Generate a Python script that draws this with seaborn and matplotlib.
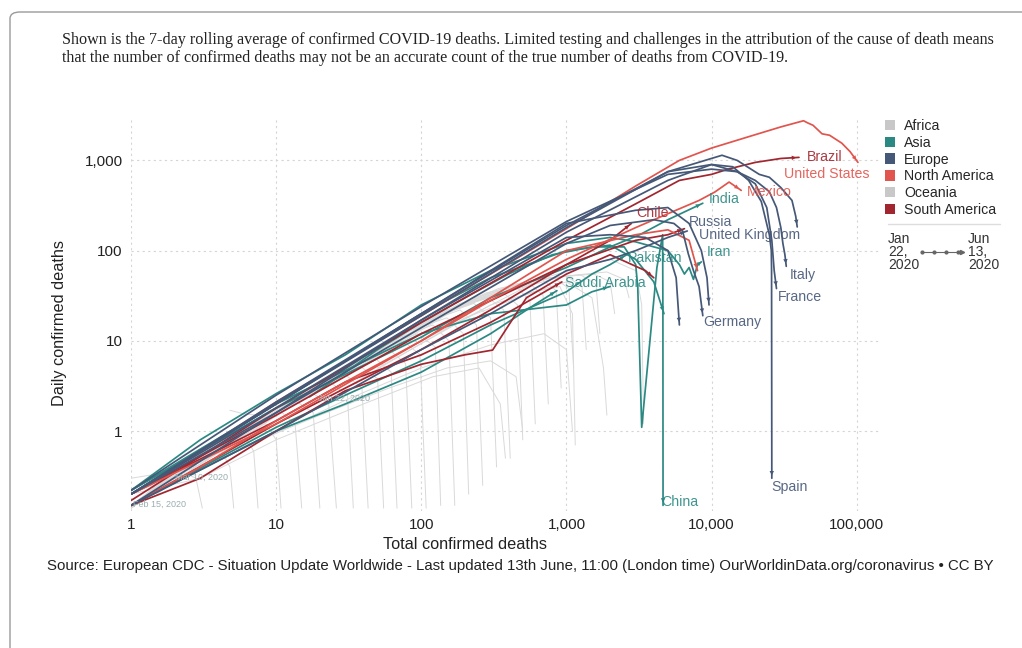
import pandas as pd
import numpy as np
import matplotlib
matplotlib.use('Agg')
import matplotlib.pyplot as plt
from matplotlib.patches import FancyBboxPatch, Patch
from matplotlib.ticker import FixedLocator, FuncFormatter, NullLocator
import seaborn as sns

# Regions / colours
regions = ['Africa', 'Asia', 'Europe', 'North America', 'Oceania', 'South America']
region_colors = ['#c8c8c8', '#2b8983', '#465877', '#e0554d', '#c8c8c8', '#a1262f']
palette = dict(zip(regions, region_colors))

# Highlighted countries: (total confirmed deaths, 7-day avg daily deaths)
united_states = [(1, 0.2), (3, 0.6), (10, 2.1), (30, 6), (100, 19), (300, 55), (1000, 175), (3000, 520),
                 (6000, 1000), (10000, 1370), (17400, 1800), (30000, 2350), (43000, 2750), (46000, 2600),
                 (50000, 2450), (57700, 1970), (65000, 1900), (79000, 1550), (90000, 1250), (102000, 950)]
brazil = [(1, 0.17), (10, 1.8), (100, 16), (1000, 130), (3000, 330), (6000, 600), (10000, 700),
          (13000, 800), (20000, 950), (30000, 1050), (40000, 1080)]
mexico = [(1, 0.15), (3, 0.4), (10, 1.3), (30, 3.5), (100, 10), (300, 28), (1000, 80), (3000, 180),
          (5100, 260), (8200, 360), (10500, 445), (13200, 575), (16000, 465)]
canada = [(1, 0.2), (10, 1.2), (100, 10), (1000, 100), (3000, 150), (5000, 170), (7000, 130), (8000, 60)]
chile = [(1, 0.15), (10, 1.2), (30, 3), (100, 8), (300, 22), (1000, 70), (2000, 130), (2800, 200)]
peru = [(1, 0.2), (10, 1.5), (100, 12), (1000, 70), (3000, 130), (5000, 150), (6500, 175)]
ecuador = [(1, 0.15), (3, 0.3), (10, 1), (30, 2.8), (100, 5.5), (200, 7), (310, 7.9), (530, 30),
           (1000, 55), (2000, 90), (3500, 60), (4000, 50)]
colombia = [(1, 0.2), (10, 1.3), (30, 3.5), (100, 7), (300, 16), (600, 30), (930, 45)]
india = [(1, 0.22), (10, 1.8), (100, 11), (300, 30), (1000, 65), (2000, 110), (3200, 150), (5000, 220), (8700, 335)]
iran = [(1, 0.22), (3, 0.8), (10, 2.6), (30, 7), (100, 25), (300, 60), (1000, 120), (2000, 140), (3000, 125),
        (4000, 110), (5000, 100), (6000, 70), (6500, 55), (7000, 65), (7500, 48), (8000, 70), (8500, 75)]
pakistan = [(1, 0.15), (10, 1.1), (30, 2.5), (100, 6), (300, 15), (1000, 35), (1500, 55), (2000, 70), (2600, 90)]
saudi_arabia = [(1, 0.15), (10, 1), (30, 2), (100, 4.5), (300, 12), (600, 25), (860, 36)]
china = [(17, 2.4), (30, 4.5), (50, 8), (100, 16), (200, 30), (400, 55), (800, 90), (1500, 110), (2500, 110),
         (3000, 70), (3100, 39), (3300, 1.1), (4200, 65), (4600, 150), (4620, 20), (4630, 0.15)]
turkey = [(1, 0.2), (10, 2), (100, 20), (300, 50), (1000, 100), (2000, 115), (3000, 80), (4000, 45), (4700, 20)]
indonesia = [(1, 0.22), (10, 2), (100, 12), (300, 20), (1000, 25), (1500, 35), (2000, 40)]
united_kingdom = [(1, 0.2), (10, 2), (100, 19), (1000, 180), (5000, 750), (11800, 1140), (15000, 1000),
                  (21300, 700), (25000, 650), (30000, 500), (35800, 360), (38000, 240), (38900, 183)]
spain = [(1, 0.2), (10, 2.1), (100, 20), (1000, 190), (5000, 750), (10000, 900), (14000, 850), (18000, 600),
         (22000, 350), (25000, 150), (25800, 100), (25900, 60), (26000, 0.3)]
france = [(1, 0.15), (10, 1.6), (100, 17), (1000, 160), (5000, 600), (10000, 900), (15000, 750), (20000, 550),
          (24000, 300), (26000, 130), (27000, 60), (28000, 38)]
italy = [(1, 0.22), (10, 2.5), (100, 24), (1000, 210), (5000, 700), (10000, 800), (15000, 750), (20000, 600),
         (25000, 450), (28000, 300), (30000, 180), (31000, 120), (32000, 90), (32700, 67)]
germany = [(1, 0.2), (10, 1.6), (100, 14), (1000, 120), (2000, 190), (4000, 220), (5500, 200), (6300, 167),
           (6900, 93), (7500, 60), (8200, 40), (8700, 19)]
russia = [(1, 0.15), (10, 1), (100, 8), (300, 20), (1000, 60), (2000, 80), (3000, 100), (5000, 140), (6800, 165)]
belgium = [(1, 0.2), (10, 2), (100, 20), (1000, 200), (3000, 280), (5000, 300), (7000, 200), (8500, 100), (9300, 50), (9600, 25)]
netherlands = [(1, 0.2), (10, 1.8), (100, 17), (1000, 140), (2000, 150), (3500, 140), (5000, 100), (5700, 50), (6000, 15)]

# Background (grey) countries
africa_lines = [
    [(1, 0.14), (1.6, 0.28), (2.3, 0.35), (2.8, 0.3), (3.1, 0.14)],
    [(1, 0.15), (2.5, 0.45), (4.5, 0.85), (6, 0.9), (7, 0.6), (7.5, 0.14)],
    [(1, 0.15), (3.5, 0.65), (7, 1.3), (11, 1.6), (13.5, 1.2), (15, 0.14)],
    [(1, 0.15), (5, 0.9), (11, 2), (18, 2.6), (23, 2), (26, 0.14)],
    [(1, 0.15), (7, 1.2), (17, 3.1), (30, 4.2), (39, 3), (43, 0.14)],
    [(1, 0.15), (9, 1.6), (26, 4.6), (48, 6.4), (62, 4.5), (68, 0.14)],
    [(1.5, 0.2), (12, 2), (40, 6.8), (75, 10), (98, 7), (108, 0.14)],
    [(2, 0.28), (18, 3), (62, 10), (120, 15), (155, 10), (170, 0.15)],
    [(3, 0.42), (26, 4.4), (95, 15), (185, 22), (240, 15), (265, 0.25)],
    [(4, 0.55), (38, 6.4), (150, 22), (290, 30), (370, 22), (410, 0.5)],
    [(6, 0.9), (55, 9.2), (230, 30), (450, 40), (560, 28), (610, 1.2)],
    [(8, 1.2), (78, 13), (340, 38), (680, 48), (850, 36), (920, 3)],
    [(12, 1.8), (110, 17), (510, 45), (1000, 52), (1280, 40), (1370, 8)],
    [(20, 2.8), (160, 22), (760, 50), (1550, 55), (2000, 45), (2150, 20)],
    [(1, 0.2), (5, 0.6), (20, 1.5), (60, 3), (150, 5), (300, 6), (450, 4), (500, 1)],
    [(2, 0.3), (8, 0.8), (30, 2.2), (100, 5), (300, 9), (700, 12), (1000, 8), (1100, 1)],
    [(50, 5), (300, 25), (1000, 45), (1500, 30), (1800, 5), (1900, 1.5)],
    [(100, 10), (700, 50), (2000, 80), (3000, 60), (3300, 25), (3400, 1.2)],
]
oceania_lines = [
    [(1, 0.14), (2, 0.35), (3.2, 0.6), (4.2, 0.6), (4.8, 0.4), (5.1, 0.14)],
    [(1, 0.14), (3, 0.55), (6, 1.1), (8.5, 1.2), (10, 0.8), (10.8, 0.14)],
    [(1, 0.14), (4, 0.7), (9, 1.7), (14, 2.1), (18, 1.6), (20, 0.14)],
    [(1, 0.14), (6, 1.1), (14, 2.6), (24, 3.4), (31, 2.5), (34, 0.14)],
    [(1, 0.14), (8, 1.4), (21, 3.8), (38, 5.2), (50, 3.8), (55, 0.14)],
    [(1, 0.14), (10, 1.7), (32, 5.6), (60, 8), (78, 5.6), (86, 0.14)],
    [(2, 0.3), (15, 2.5), (50, 8.5), (95, 12), (125, 8.5), (136, 0.15)],
    [(3, 0.45), (22, 3.7), (78, 12.5), (150, 18), (195, 12), (212, 0.2)],
    [(4, 0.6), (32, 5.4), (120, 18), (230, 26), (300, 18), (330, 0.4)],
    [(5, 0.75), (46, 7.8), (185, 26), (360, 35), (460, 25), (500, 0.8)],
    [(7, 1), (65, 11), (280, 34), (550, 44), (690, 32), (750, 2)],
    [(10, 1.5), (92, 15), (420, 42), (820, 50), (1040, 38), (1120, 5)],
    [(15, 2.2), (130, 19), (620, 48), (1250, 54), (1600, 42), (1700, 12)],
    [(25, 3.4), (200, 26), (950, 52), (1900, 58), (2500, 48), (2700, 30)],
    [(1, 0.2), (3, 0.3), (10, 0.8), (40, 2), (120, 4), (250, 5), (350, 2), (380, 0.5)],
    [(4.8, 1.7), (6, 1.55), (7.5, 1.5), (9, 1.6)],
    [(30, 3), (200, 18), (600, 35), (900, 40), (1100, 20), (1150, 0.7)],
    [(1, 0.3), (1.8, 0.35), (2.5, 0.4), (3, 0.42)],
]

countries = [
    ('Saudi Arabia', 'Asia', saudi_arabia), ('Indonesia', 'Asia', indonesia), ('Pakistan', 'Asia', pakistan),
    ('Turkey', 'Asia', turkey), ('China', 'Asia', china), ('Iran', 'Asia', iran), ('India', 'Asia', india),
    ('Colombia', 'South America', colombia), ('Ecuador', 'South America', ecuador),
    ('Peru', 'South America', peru), ('Chile', 'South America', chile), ('Brazil', 'South America', brazil),
    ('Canada', 'North America', canada), ('Mexico', 'North America', mexico),
    ('Russia', 'Europe', russia), ('Netherlands', 'Europe', netherlands), ('Belgium', 'Europe', belgium),
    ('Germany', 'Europe', germany), ('France', 'Europe', france), ('Spain', 'Europe', spain),
    ('Italy', 'Europe', italy), ('United Kingdom', 'Europe', united_kingdom),
    ('United States', 'North America', united_states),
]

# Label anchor points (left edge of text) in data coordinates
label_pos = {
    'Brazil': (45600, 1080), 'United States': (31700, 700), 'Mexico': (17400, 444), 'India': (9500, 371),
    'Chile': (3030, 260), 'Russia': (7030, 206), 'United Kingdom': (8240, 148), 'Iran': (9200, 96),
    'Pakistan': (2670, 82), 'Saudi Arabia': (970, 44), 'Italy': (34300, 53), 'France': (28800, 31),
    'Germany': (8790, 16), 'Spain': (25800, 0.24), 'China': (4510, 0.164),
}

# Build long tables
rows = []
for i, line in enumerate(africa_lines):
    for t, d in line:
        rows.append(('af%02d' % i, 'Africa', t, d))
for i, line in enumerate(oceania_lines):
    for t, d in line:
        rows.append(('oc%02d' % i, 'Oceania', t, d))
bg = pd.DataFrame(rows, columns=['country', 'region', 'total', 'daily'])

rows = []
for name, reg, line in countries:
    for t, d in line:
        rows.append((name, reg, t, d))
hl = pd.DataFrame(rows, columns=['country', 'region', 'total', 'daily'])

# Figure
sns.set_style('white')
plt.rcParams['font.family'] = ['Liberation Sans', 'DejaVu Sans']

fig = plt.figure(figsize=(10.22, 6.48), dpi=100)
ax = fig.add_axes([0.1282, 0.2114, 0.733, 0.6065])
ax.set_xscale('log')
ax.set_yscale('log')

sns.lineplot(data=bg, x='total', y='daily', units='country', estimator=None, sort=False,
             color='#d9d9d9', lw=0.7, ax=ax, legend=False)
sns.lineplot(data=hl, x='total', y='daily', hue='region', palette=palette, units='country',
             estimator=None, sort=False, lw=1.25, ax=ax, legend=False)

# arrow heads at the end of highlighted lines
for name, reg, line in countries:
    ax.annotate('', xy=line[-1], xytext=line[-2],
                arrowprops=dict(arrowstyle='-|>', color=palette[reg], lw=0, mutation_scale=8))
    if name in label_pos:
        ax.text(label_pos[name][0], label_pos[name][1], name, color=palette[reg], fontsize=10.2,
                ha='left', va='center', alpha=0.9)

# start date labels
ax.text(19.4, 2.32, 'Jan 22, 2020', fontsize=6.5, color='#9aaeb0', va='center')
ax.text(2.0, 0.31, 'Mar 10, 2020', fontsize=6.5, color='#9aaeb0', va='center')
ax.text(1.03, 0.155, 'Feb 15, 2020', fontsize=6.5, color='#9aaeb0', va='center')

ax.set_xlim(1, 145000)
ax.set_ylim(0.13, 2950)
ax.xaxis.set_major_locator(FixedLocator([1, 10, 100, 1000, 10000, 100000]))
ax.yaxis.set_major_locator(FixedLocator([1, 10, 100, 1000]))
ax.xaxis.set_minor_locator(NullLocator())
ax.yaxis.set_minor_locator(NullLocator())
fmt = FuncFormatter(lambda v, p: '{:,.0f}'.format(v))
ax.xaxis.set_major_formatter(fmt)
ax.yaxis.set_major_formatter(fmt)
ax.tick_params(axis='both', length=0, labelsize=11, colors='#222222')
ax.tick_params(axis='x', pad=5)
ax.tick_params(axis='y', pad=6)
ax.grid(True, which='major', linestyle=(0, (2, 3)), color='#d5d5d5', lw=0.8)
for s in ax.spines.values():
    s.set_visible(False)
ax.set_xlabel('Total confirmed deaths', fontsize=11.7, color='#222222', labelpad=2)
ax.xaxis.set_label_coords(0.446, -0.065)
ax.set_ylabel('Daily confirmed deaths', fontsize=11.7, color='#222222')
ax.yaxis.set_label_coords(-0.086, 0.478)

# header text
fig.text(62 / 1022, 1 - 32 / 648,
         'Shown is the 7-day rolling average of confirmed COVID-19 deaths. Limited testing and challenges in the attribution of the cause of death means\n'
         'that the number of confirmed deaths may not be an accurate count of the true number of deaths from COVID-19.',
         family=['Liberation Serif', 'DejaVu Serif'], fontsize=11.6, color='#222222', va='top', linespacing=1.15)

# source text
fig.text(47 / 1022, 1 - 566 / 648,
         'Source: European CDC - Situation Update Worldwide - Last updated 13th June, 11:00 (London time) OurWorldinData.org/coronavirus \u2022 CC BY',
         fontsize=10.8, color='#222222', va='center')

# legend
handles = [Patch(facecolor=c, edgecolor='none', label=r) for r, c in zip(regions, region_colors)]
fig.legend(handles=handles, loc='upper left', bbox_to_anchor=(882 / 1022, 1 - 116 / 648), frameon=False,
           fontsize=10.2, handlelength=0.75, handleheight=0.75, handletextpad=0.6, labelspacing=0.2,
           borderaxespad=0, borderpad=0.2)
fig.add_artist(plt.Line2D([888 / 1022, 1000 / 1022], [1 - 224 / 648, 1 - 224 / 648], color='#dddddd', lw=1))
fig.text(888 / 1022, 1 - 232 / 648, 'Jan\n22,\n2020', fontsize=10, color='#333333', va='top', linespacing=0.9)
fig.text(968 / 1022, 1 - 232 / 648, 'Jun\n13,\n2020', fontsize=10, color='#333333', va='top', linespacing=0.9)
fig.add_artist(plt.Line2D([922 / 1022, 958 / 1022], [1 - 252 / 648] * 2, color='#666666', lw=0.8,
                          marker='o', markersize=2, markevery=[0, 1]))
fig.add_artist(plt.Line2D([934 / 1022, 946 / 1022], [1 - 252 / 648] * 2, color='#666666', lw=0,
                          marker='o', markersize=2))
fig.add_artist(plt.Line2D([962 / 1022], [1 - 252 / 648], color='#666666', lw=0, marker='>', markersize=3))

# card border
card = FancyBboxPatch((10 / 1022, -0.2), 1.2, 1.2 - 12 / 648, boxstyle='round,pad=0,rounding_size=0.01',
                      transform=fig.transFigure, facecolor='none', edgecolor='#9a9a9a', lw=1)
fig.add_artist(card)

fig.savefig('out.png', dpi=100)
